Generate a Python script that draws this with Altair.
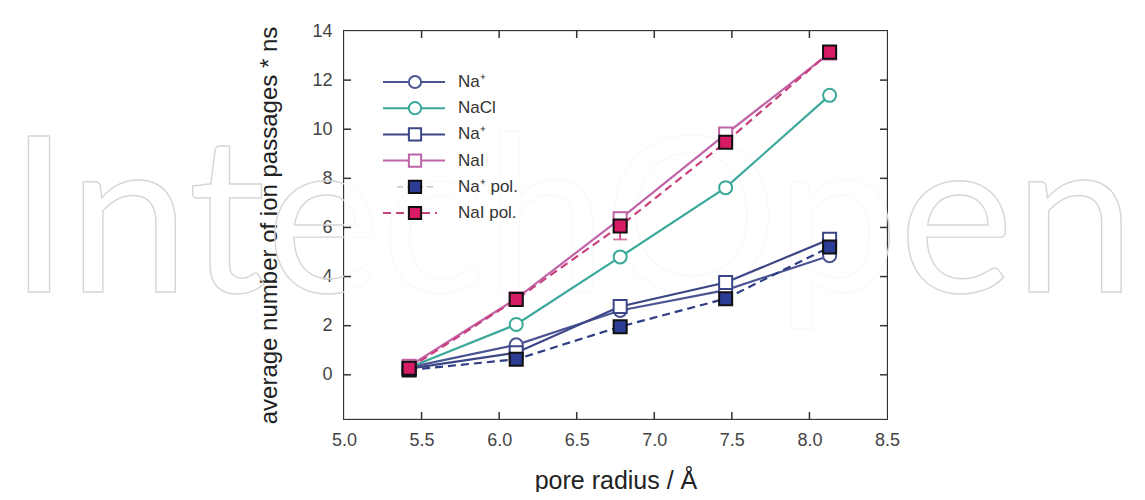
import altair as alt
import pandas as pd

# ---- data ----
radius = [5.42, 6.11, 6.78, 7.46, 8.13]
na_circle = [0.30, 1.22, 2.62, 3.45, 4.85]
nacl = [0.30, 2.05, 4.80, 7.62, 11.38]
na_square = [0.25, 0.90, 2.78, 3.76, 5.52]
nai = [0.35, 3.10, 6.35, 9.80, 13.10]
na_pol = [0.20, 0.63, 1.96, 3.10, 5.20]
nai_pol = [0.27, 3.07, 6.06, 9.47, 13.14]
nai_pol_err = [0.0, 0.0, 0.55, 0.0, 0.0]

labels = ["Na\u207a", "NaCl", "Na\u207a", "NaI", "Na\u207a pol.", "NaI pol."]
x_ticks = [5.0, 5.5, 6.0, 6.5, 7.0, 7.5, 8.0, 8.5]
y_ticks = [0, 2, 4, 6, 8, 10, 12, 14]

W, H = 543, 388
FONT = "Liberation Sans"

series = [
    # name, values, color, shape, filled, dash, marker fill
    ("Na+ o", na_circle, "#4c5594", "circle", False, None, "white"),
    ("NaCl", nacl, "#3aa99a", "circle", False, None, "white"),
    ("Na+ s", na_square, "#3b4686", "square", False, None, "white"),
    ("NaI", nai, "#c064a8", "square", False, None, "white"),
    ("Na+ pol", na_pol, "#2f3d84", "square", True, [8, 5], "#2d3c94"),
    ("NaI pol", nai_pol, "#c8407e", "square", True, [8, 5], "#d81b65"),
]

xs = alt.Scale(domain=[5.0, 8.5], nice=False, zero=False)
ys = alt.Scale(domain=[-1.8, 14], nice=False, zero=False)

x_axis = alt.Axis(values=x_ticks, format=".1f", ticks=False, domain=False, grid=False,
                  labelFlush=False, labelOverlap=False, labelPadding=12,
                  labelFontSize=18, labelColor="#444", labelFont=FONT,
                  title="pore radius / \u00c5", titleFontSize=25, titleFontWeight="normal",
                  titleFont=FONT, titleColor="#222", titlePadding=19)
y_axis = alt.Axis(values=y_ticks, format="d", ticks=False, domain=False, grid=False,
                  labelOverlap=False, labelPadding=12, labelFontSize=18, labelColor="#444",
                  labelFont=FONT, title="average number of ion passages * ns",
                  titleFontSize=24, titleFontWeight="normal", titleFont=FONT,
                  titleColor="#222", titlePadding=30)

layers = []

# watermark
wm = pd.DataFrame({"t": ["IntechOpen"]})
layers.append(
    alt.Chart(wm).mark_text(font="Lato", fontSize=218, fontWeight="normal", fill="transparent",
                            stroke="#d6d6d6", strokeWidth=1.4, align="center",
                            baseline="alphabetic", clip=False)
    .encode(x=alt.value(228), y=alt.value(261), text="t:N")
)
# plot area veils the watermark
veil = pd.DataFrame({"v": [1]})
layers.append(alt.Chart(veil).mark_rect(color="white", opacity=0.85).encode(
    x=alt.value(0), x2=alt.value(W), y=alt.value(0), y2=alt.value(H)))

# base (carries the axes)
base_df = pd.DataFrame({"x": radius, "y": nai_pol})
layers.append(
    alt.Chart(base_df).mark_point(opacity=0)
    .encode(x=alt.X("x:Q", scale=xs, axis=x_axis), y=alt.Y("y:Q", scale=ys, axis=y_axis))
)

# inward ticks
xt = pd.DataFrame({"t": x_ticks[1:-1]})
yt = pd.DataFrame({"t": y_ticks[:-1]})
tick_col = "#333"
for y0, y1 in [(H, H - 7), (0, 7)]:
    layers.append(alt.Chart(xt).mark_rule(color=tick_col, strokeWidth=1.5).encode(
        x=alt.X("t:Q", scale=xs), y=alt.value(y0), y2=alt.value(y1)))
for x0, x1 in [(0, 7), (W, W - 7)]:
    layers.append(alt.Chart(yt).mark_rule(color=tick_col, strokeWidth=1.5).encode(
        y=alt.Y("t:Q", scale=ys), x=alt.value(x0), x2=alt.value(x1)))

# lines
for name, vals, col, shape, filled, dash, mfill in series:
    df = pd.DataFrame({"x": radius, "y": vals})
    kw = dict(color=col, strokeWidth=2.2)
    if dash:
        kw["strokeDash"] = dash
    layers.append(alt.Chart(df).mark_line(**kw).encode(
        x=alt.X("x:Q", scale=xs), y=alt.Y("y:Q", scale=ys)))

# error bar
err_df = pd.DataFrame({"x": radius, "lo": [v - e for v, e in zip(nai_pol, nai_pol_err)],
                       "hi": [v + e for v, e in zip(nai_pol, nai_pol_err)],
                       "e": nai_pol_err})
err_df = err_df[err_df["e"] > 0]
layers.append(alt.Chart(err_df).mark_rule(color="#c8407e", strokeWidth=1.8).encode(
    x=alt.X("x:Q", scale=xs), y=alt.Y("lo:Q", scale=ys), y2="hi:Q"))
for c in ["lo", "hi"]:
    layers.append(alt.Chart(err_df).mark_tick(color="#c8407e", orient="horizontal",
                                              size=14, thickness=1.8).encode(
        x=alt.X("x:Q", scale=xs), y=alt.Y(f"{c}:Q", scale=ys)))

# markers
for name, vals, col, shape, filled, dash, mfill in series:
    df = pd.DataFrame({"x": radius, "y": vals})
    stroke = "#111" if filled else col
    layers.append(alt.Chart(df).mark_point(shape=shape, size=170, filled=True, fill=mfill,
                                           stroke=stroke, strokeWidth=2, opacity=1)
                  .encode(x=alt.X("x:Q", scale=xs), y=alt.Y("y:Q", scale=ys)))

# legend (pixel layout derived from row index)
row0, step = 51, 26.2
for i, ((name, vals, col, shape, filled, dash, mfill), lab) in enumerate(zip(series, labels)):
    yy = row0 + step * i
    ldf = pd.DataFrame({"lab": [lab]})
    if name == "Na+ pol":
        lkw = dict(color="#b8b8b8", strokeWidth=1.2, strokeDash=[6, 4])
        xa, xb = 53, 93
    elif name == "NaI pol":
        lkw = dict(color=col, strokeWidth=2, strokeDash=[8, 5])
        xa, xb = 39, 93
    else:
        lkw = dict(color=col, strokeWidth=2)
        xa, xb = 39, 101
    layers.append(alt.Chart(ldf).mark_rule(**lkw).encode(
        x=alt.value(xa), x2=alt.value(xb), y=alt.value(yy)))
    stroke = "#111" if filled else col
    layers.append(alt.Chart(ldf).mark_point(shape=shape, size=150, filled=True, fill=mfill,
                                            stroke=stroke, strokeWidth=2, opacity=1)
                  .encode(x=alt.value(71), y=alt.value(yy)))
    layers.append(alt.Chart(ldf).mark_text(align="left", baseline="middle", fontSize=17,
                                           font=FONT, color="#333")
                  .encode(x=alt.value(114), y=alt.value(yy), text="lab:N"))

chart = alt.layer(*layers).properties(
    width=W, height=H,
    autosize=alt.AutoSizeParams(type="none"),
    padding={"left": 336, "top": 23, "right": 250, "bottom": 73},
    background="white",
).configure_view(stroke="#333", strokeWidth=2)

chart.save("out.html", embed_options={"renderer": "svg", "actions": False})
